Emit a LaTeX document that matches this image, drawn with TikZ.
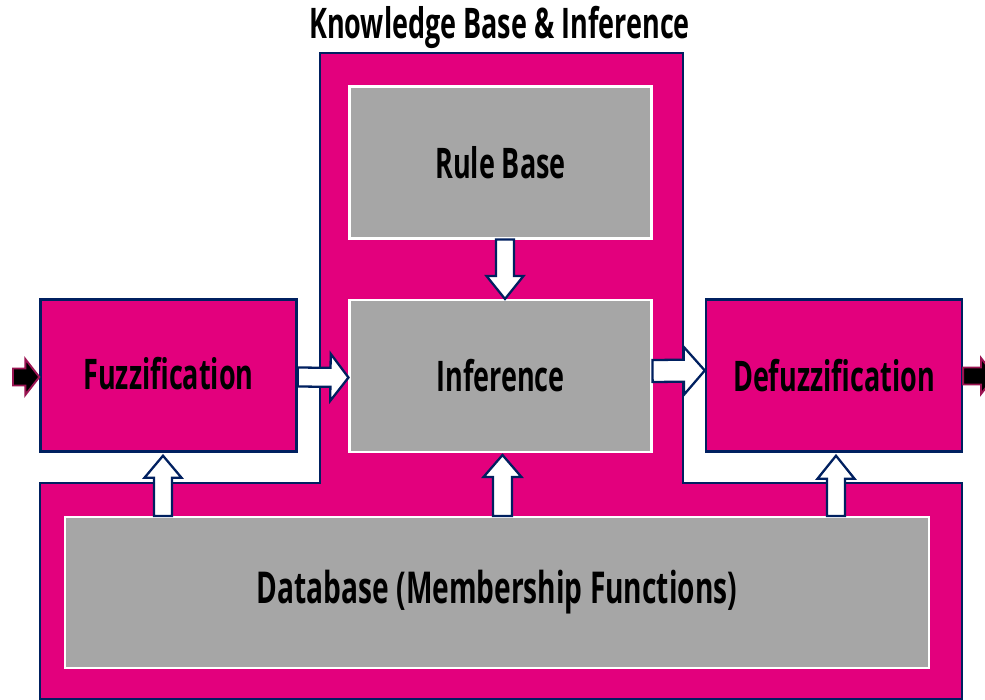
\documentclass[tikz,border=0pt]{standalone}
\usepackage{fontspec}
\newfontfamily\condfont{Open Sans}[FakeStretch=0.64]
\usetikzlibrary{calc}
\definecolor{pinkc}{HTML}{E3007D}
\definecolor{navyc}{HTML}{002060}
\definecolor{greyc}{HTML}{A6A6A6}
\definecolor{winec}{HTML}{9B1452}
\tikzset{
  lbl/.style={font=\condfont\bfseries\fontsize{24}{28}\selectfont,text=black,inner sep=0pt},
  pinkbox/.style={lbl,draw=navyc,line width=1.4pt,fill=pinkc,minimum width=5.12cm,minimum height=3.04cm},
  greybox/.style={lbl,draw=white,line width=1.2pt,fill=greyc,minimum width=6.04cm,minimum height=3.04cm},
  kbshape/.style={draw=navyc,line width=1.4pt,fill=pinkc},
  fatarr/.style={draw=navyc,line width=1.3pt,fill=white,line join=miter},
  ioarr/.style={draw=winec,line width=1.1pt,fill=black,line join=miter},
}
% #2 from, #3 to, #4 shaft half width, #5 head half width, #6 head length
\newcommand{\fatarrow}[6][fatarr]{%
  \draw[#1] let \p1=(#2), \p2=(#3), \n1={atan2(\y2-\y1,\x2-\x1)}, \n2={veclen(\x2-\x1,\y2-\y1)} in
    [shift={(\p1)},rotate=\n1] (0pt,-#4) -- ({\n2-#6},-#4) -- ({\n2-#6},-#5) -- (\n2,0pt)
    -- ({\n2-#6},#5) -- ({\n2-#6},#4) -- (0pt,#4) -- cycle;}

\begin{document}
\begin{tikzpicture}[x=0.02cm,y=-0.02cm]
  \clip (0,0) rectangle (985,700);
  \fill[white] (0,0) rectangle (985,700);
  % knowledge base outline
  \draw[kbshape] (320,53) -- (683,53) -- (683,483) -- (962,483) -- (962,699) -- (40,699) -- (40,483) -- (320,483) -- cycle;
  \node[lbl,anchor=base] (title) at (499.5,38) {Knowledge Base \& Inference};

  \node[greybox] (rules) at (500.5,162.5) {\raisebox{-1pt}{Rule Base}};
  \node[greybox] (infer) at (500.5,376) {Inference};
  \node[greybox,minimum width=17.3cm,minimum height=3.02cm,font=\condfont\bfseries\fontsize{25}{29}\selectfont] (db) at (497,592.5) {Database (Membership Functions)};
  \node[pinkbox] (fuzz) at (168.5,375.5) {\raisebox{2pt}{Fuzzification}};
  \node[pinkbox] (defuzz) at (834,375.5) {Defuzzification};

  \coordinate (in) at (13,377);
  \coordinate (out) at (995,376);
  \fatarrow[ioarr]{in}{fuzz.west |- in}{0.17cm}{0.36cm}{0.28cm}
  \fatarrow[ioarr]{defuzz.east |- out}{out}{0.17cm}{0.36cm}{0.28cm}

  \coordinate (fz) at ([xshift=-0.11cm,yshift=-0.06cm]fuzz.south);
  \coordinate (ic) at ([xshift=0.04cm,yshift=-0.04cm]infer.south);
  \coordinate (dz) at ([xshift=0.04cm,yshift=-0.06cm]defuzz.south);
  \fatarrow{[yshift=-0.03cm]fuzz.east}{[yshift=-0.03cm]infer.west}{0.19cm}{0.47cm}{0.36cm}
  \fatarrow{[yshift=0.1cm]infer.east}{[yshift=0.1cm]defuzz.west}{0.22cm}{0.48cm}{0.42cm}
  \fatarrow{[xshift=0.09cm]rules.south}{[xshift=0.09cm]infer.north}{0.18cm}{0.37cm}{0.46cm}
  \fatarrow{fz |- db.north}{fz}{0.18cm}{0.37cm}{0.44cm}
  \fatarrow{ic |- db.north}{ic}{0.19cm}{0.38cm}{0.44cm}
  \fatarrow{dz |- db.north}{dz}{0.18cm}{0.37cm}{0.46cm}
\end{tikzpicture}
\end{document}
